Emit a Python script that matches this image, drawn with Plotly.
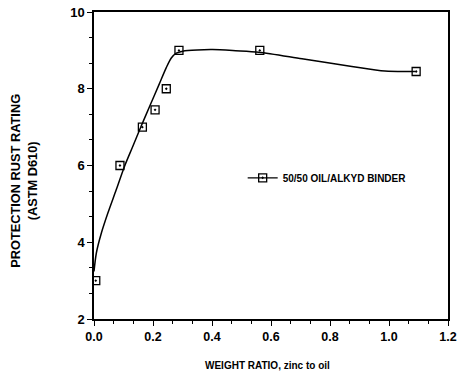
import plotly.graph_objects as go

# measured points
ratio = [0.006, 0.088, 0.164, 0.207, 0.245, 0.288, 0.562, 1.092]
rating = [3.0, 6.0, 7.0, 7.45, 8.0, 9.0, 9.0, 8.45]

# fitted curve
fit_x = [0.0, 0.008, 0.025, 0.047, 0.075, 0.103, 0.131, 0.159, 0.188, 0.22, 0.245,
         0.262, 0.279, 0.301, 0.35, 0.402, 0.48, 0.559, 0.705, 0.874, 0.986, 1.088]
fit_y = [3.24, 3.72, 4.24, 4.76, 5.36, 5.97, 6.49, 7.01, 7.53, 8.1, 8.55,
         8.8, 8.93, 8.98, 9.01, 9.02, 8.99, 8.95, 8.78, 8.58, 8.46, 8.45]

series_name = "50/50 OIL/ALKYD BINDER"
x_title = "WEIGHT RATIO, zinc to oil"
y_title = "PROTECTION RUST RATING<br>(ASTM D610)"
x_ticks = [0.0, 0.2, 0.4, 0.6, 0.8, 1.0, 1.2]
x_tick_text = ["0.0", "0.2", "0.4", "0.6", "0.8", "1.0", "1.2"]
y_ticks = [2, 4, 6, 8, 10]

FONT = "Liberation Sans, Arial, Helvetica, sans-serif"

fig = go.Figure()
fig.add_trace(go.Scatter(x=fit_x, y=fit_y, mode="lines",
                         line=dict(color="black", width=1.5, shape="spline", smoothing=0.8),
                         showlegend=False, hoverinfo="skip"))
fig.add_trace(go.Scatter(x=ratio, y=rating, mode="markers",
                         marker=dict(symbol="square-open-dot", size=8, color="black",
                                     line=dict(color="black", width=1.3)),
                         showlegend=False))
fig.add_trace(go.Scatter(x=[None], y=[None], mode="lines+markers", name=series_name,
                         line=dict(color="black", width=1.2),
                         marker=dict(symbol="square-open-dot", size=8, color="black",
                                     line=dict(color="black", width=1.3))))

fig.update_layout(
    width=457, height=375,
    margin=dict(l=94, r=9, t=12, b=56, autoexpand=False),
    paper_bgcolor="white", plot_bgcolor="white",
    font=dict(family=FONT, color="black"),
    legend=dict(x=0.42, y=0.46, xanchor="left", yanchor="middle",
                bgcolor="rgba(0,0,0,0)",
                font=dict(family=FONT, size=10, color="black", weight="bold")),
    xaxis=dict(range=[0, 1.2], tickvals=x_ticks, ticktext=x_tick_text,
               ticklabeloverflow="allow",
               showgrid=False, zeroline=False, automargin=False,
               showline=True, linecolor="black", linewidth=1.5, mirror=True,
               ticks="outside", ticklen=5, tickwidth=1.2, tickcolor="black",
               minor=dict(dtick=0.2 / 3, ticks="outside", ticklen=3, tickwidth=1.2, tickcolor="black",
                          showgrid=False),
               tickfont=dict(family=FONT, size=12.5, weight="bold")),
    yaxis=dict(range=[2, 10], tickvals=y_ticks,
               ticklabeloverflow="allow",
               showgrid=False, zeroline=False, automargin=False,
               showline=True, linecolor="black", linewidth=1.5, mirror=True,
               ticks="outside", ticklen=5, tickwidth=1.2, tickcolor="black",
               minor=dict(dtick=2 / 3, ticks="outside", ticklen=3, tickwidth=1.2, tickcolor="black",
                          showgrid=False),
               tickfont=dict(family=FONT, size=13, weight="bold")),
    annotations=[
        dict(text=x_title, xref="paper", yref="paper", x=0.49, y=-0.15,
             xanchor="center", yanchor="middle", showarrow=False,
             font=dict(family=FONT, size=10, weight="bold")),
        dict(text=y_title, xref="paper", yref="paper", x=0, xshift=-70, y=0.45,
             xanchor="center", yanchor="middle", textangle=-90, showarrow=False,
             font=dict(family=FONT, size=12.8, weight="bold")),
    ],
)

fig.write_html("out.html")
